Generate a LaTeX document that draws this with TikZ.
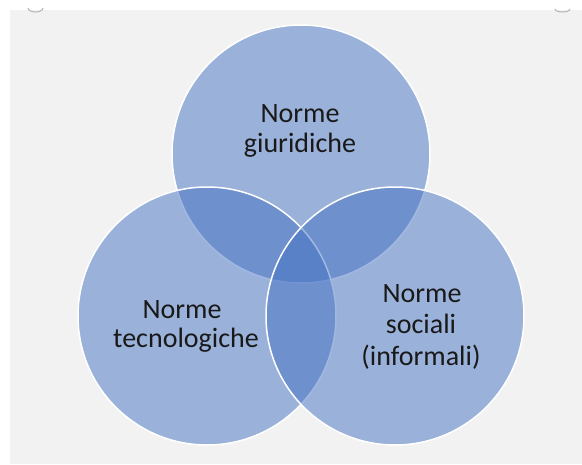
\documentclass[tikz,border=0pt]{standalone}
\usepackage{fontspec}
\setmainfont{Carlito}
\definecolor{bgray}{HTML}{F2F2F2}
\definecolor{vblue}{HTML}{4472C4}
\begin{document}
\begin{tikzpicture}[x=1pt,y=-1pt,
  venn/.style={circle,minimum size=258pt,inner sep=0pt,fill=vblue,fill opacity=0.5,draw=white,draw opacity=1,line width=1.5pt},
  lbl/.style={font=\fontsize{28}{34}\selectfont,align=center,text=black!90,inner sep=0pt},
  handle/.style={draw=gray!60,line width=1pt}]
\useasboundingbox (0,0) rectangle (582,464);
\fill[white] (0,0) rectangle (582,464);
\fill[bgray] (10,10) rectangle (582,464);
\draw[handle] (28,8) arc[start angle=180,end angle=360,x radius=7.5pt,y radius=4pt];
\draw[handle] (555,9) arc[start angle=180,end angle=360,x radius=7.5pt,y radius=3pt];
\node[venn] (top) at (301,154) {};
\node[venn] (left) at (207,316) {};
\node[venn] (right) at (395,316) {};
\node[lbl,anchor=base] (tg) at (300,152) {giuridiche};
\node[lbl,anchor=base] (tn) at (300,122) {Norme};
\node[lbl,anchor=base] (lt) at (186,347) {tecnologiche};
\node[lbl,anchor=base] (ln) at (182,318) {Norme};
\node[lbl,anchor=base] (rn) at (422,302) {Norme};
\node[lbl,anchor=base] (rs) at (421,333) {sociali};
\node[lbl,anchor=base] (ri) at (421,365) {(informali)};
\end{tikzpicture}
\end{document}
